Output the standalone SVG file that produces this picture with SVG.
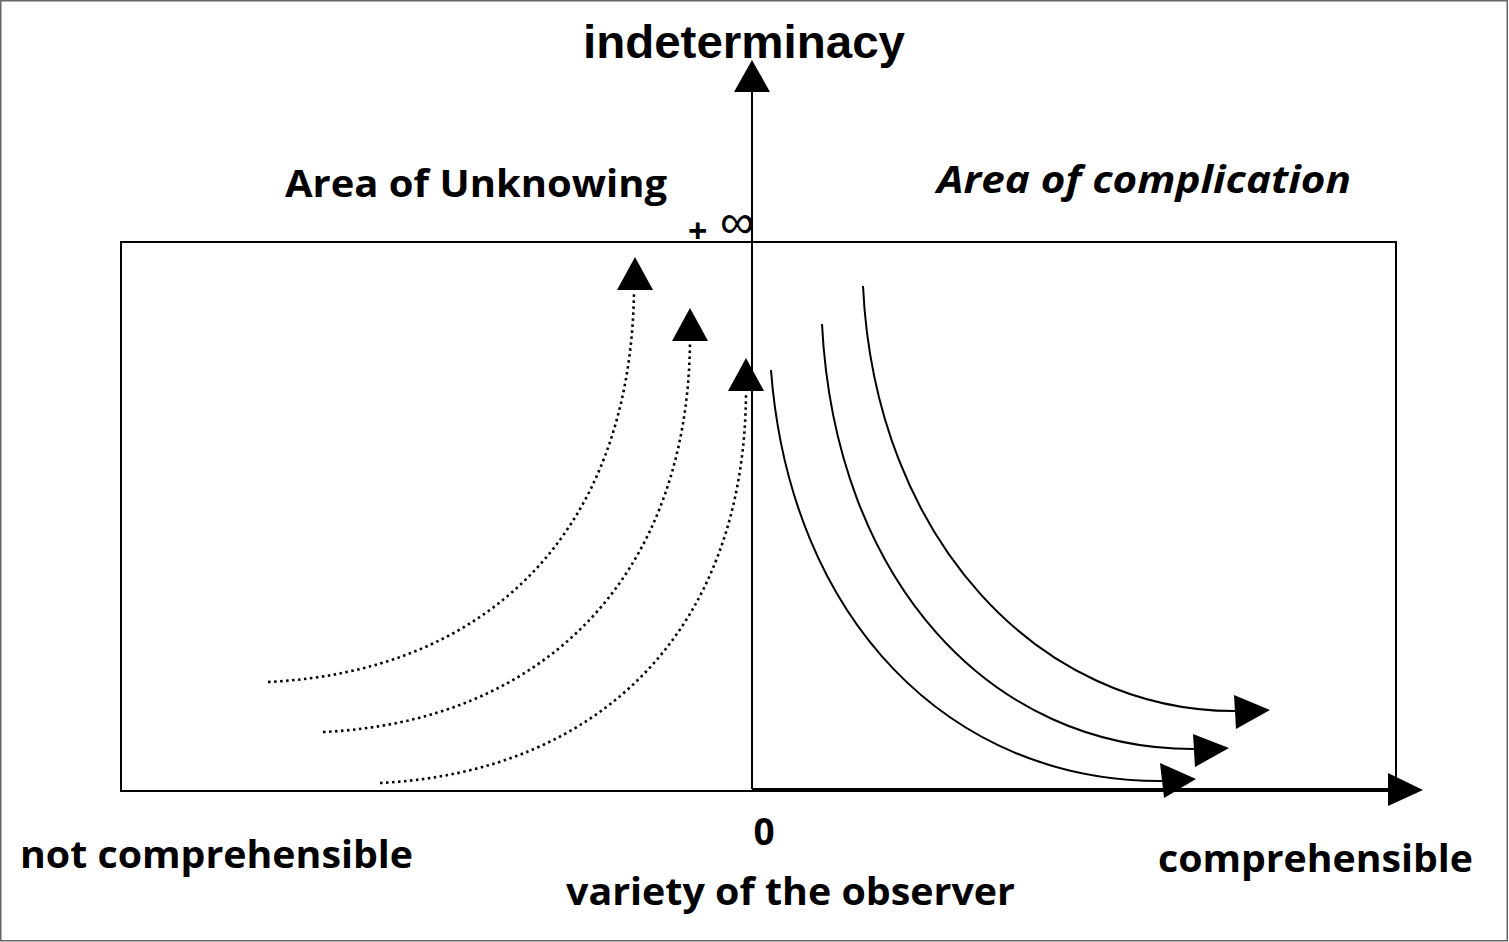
<svg xmlns="http://www.w3.org/2000/svg" width="1509" height="942" viewBox="0 0 1509 942">
<style>
.t{font-family:"Open Sans",Lato,"Liberation Sans",sans-serif;font-weight:bold;fill:#000}
.dot{fill:none;stroke:#000;stroke-width:2.6;stroke-linecap:butt;stroke-dasharray:2.5 3.5}
.sol{fill:none;stroke:#000;stroke-width:2}
.ax{fill:none;stroke:#000;stroke-width:2}
.head{fill:#000}
</style>
<rect x="0" y="0" width="1509" height="942" fill="#fff"/>
<rect x="0.75" y="0.75" width="1506.5" height="940" fill="none" stroke="#666" stroke-width="1.5"/>
<g id="frame-box">
<rect x="121" y="242" width="1275" height="549" fill="none" stroke="#000" stroke-width="2"/>
</g>
<g id="connectors">
<line class="ax" x1="752" y1="789" x2="752" y2="88"/>
<polygon class="head" points="752,60 734,92 770,92"/>
<line class="ax" x1="752" y1="789" x2="1392" y2="789"/>
<polygon class="head" points="1423,790 1388,773 1388,806"/>
<path class="dot" d="M268,682 C480,672 630,540 634,292"/>
<polygon class="head" points="635,257 617,290 653,290"/>
<path class="dot" d="M323,732 C540,722 688,580 690,341"/>
<polygon class="head" points="690,308 672,341 708,341"/>
<path class="dot" d="M380,783 C600,772 745,630 746,392"/>
<polygon class="head" points="746,358 728,391 764,391"/>
<path class="sol" d="M771,370 C790,620 950,782 1162,781"/>
<polygon class="head" points="1196,779 1160,763 1164,798"/>
<path class="sol" d="M822,324 C835,580 990,750 1195,749"/>
<polygon class="head" points="1229,748 1193,734 1195,767"/>
<path class="sol" d="M863,286 C875,540 1040,712 1236,711"/>
<polygon class="head" points="1270,710 1234,695 1236,729"/>
</g>
<g id="label-indeterminacy"><text x="583" y="58" font-family="'Liberation Sans',Arial,sans-serif" font-weight="bold" font-size="47" textLength="322" lengthAdjust="spacingAndGlyphs">indeterminacy</text></g>
<g id="label-unknowing"><text class="t" x="285" y="197" font-size="37" textLength="382" lengthAdjust="spacingAndGlyphs">Area of Unknowing</text></g>
<g id="label-complication"><text class="t" x="937" y="193" font-size="37" font-style="italic" textLength="414" lengthAdjust="spacingAndGlyphs">Area of complication</text></g>
<g id="label-infinity"><text class="t" x="688" y="243" font-size="34">+</text><text x="720" y="238" font-family="'Liberation Sans',Arial,sans-serif" font-size="48">∞</text></g>
<g id="label-zero"><text class="t" x="764" y="845" font-size="37" text-anchor="middle">0</text></g>
<g id="label-not-comp"><text class="t" x="20" y="868" font-size="37" textLength="393" lengthAdjust="spacingAndGlyphs">not comprehensible</text></g>
<g id="label-comp"><text class="t" x="1158" y="872" font-size="37" textLength="315" lengthAdjust="spacingAndGlyphs">comprehensible</text></g>
<g id="label-variety"><text class="t" x="566" y="905" font-size="37" textLength="449" lengthAdjust="spacingAndGlyphs">variety of the observer</text></g>
</svg>
